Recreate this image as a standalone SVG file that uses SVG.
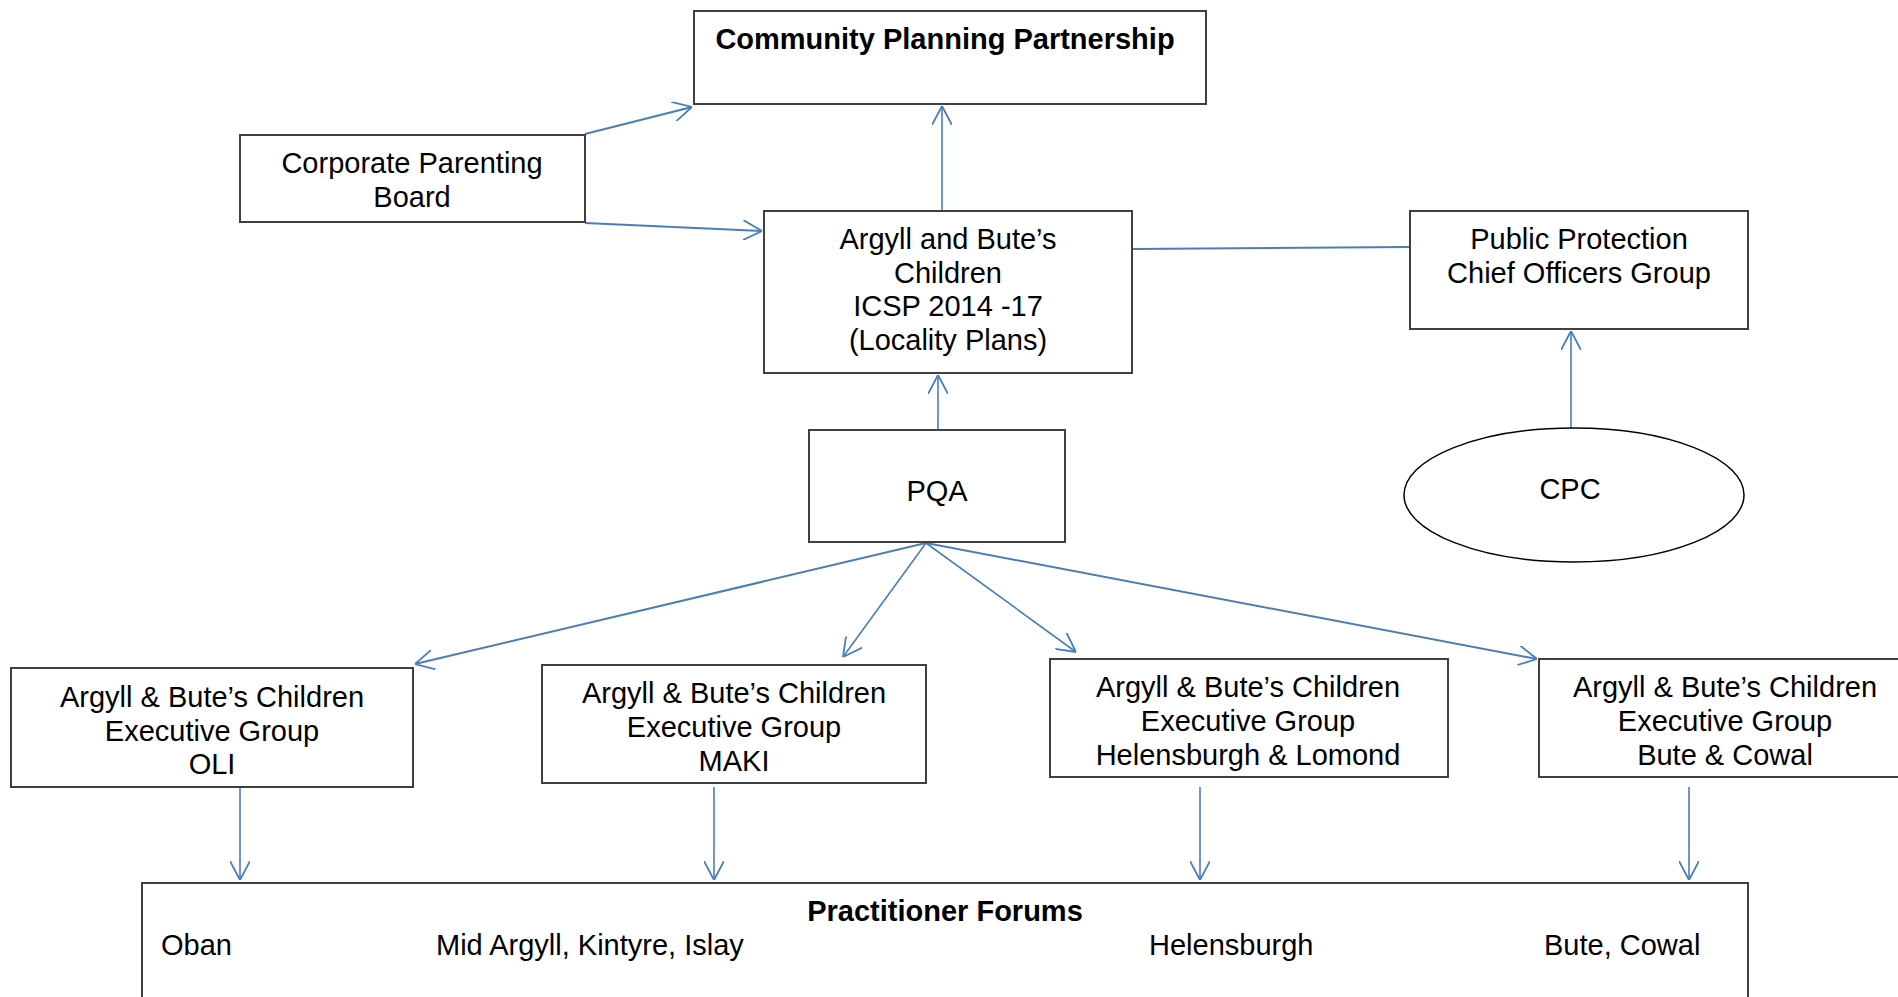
<svg xmlns="http://www.w3.org/2000/svg" width="1898" height="997" viewBox="0 0 1898 997">
<style>
.box{fill:#fff;stroke:#404040;stroke-width:2}
.t{font-family:"Liberation Sans",Arial,sans-serif;font-size:29px;fill:#000;text-anchor:middle}
.b{font-weight:bold}
.l{text-anchor:start}
.c{fill:none;stroke:#4a7ebb;stroke-width:2}
.v{stroke-width:1.6}
</style>
<defs>
<marker id="ah" viewBox="0 0 19 20" refX="19" refY="10" markerWidth="19" markerHeight="20" markerUnits="userSpaceOnUse" orient="auto">
<path d="M0,0 L19,10 L0,20" fill="none" stroke="#4a7ebb" stroke-width="1.8"/>
</marker>
</defs>
<rect width="1898" height="997" fill="#fff"/>
<g id="connectors">
<line class="c" x1="585" y1="134" x2="692" y2="107" marker-end="url(#ah)"/>
<line class="c" x1="585" y1="223" x2="762" y2="231" marker-end="url(#ah)"/>
<line class="c v" x1="942" y1="211" x2="942" y2="106" marker-end="url(#ah)"/>
<line class="c" x1="1132" y1="249" x2="1410" y2="247"/>
<line class="c v" x1="938" y1="430" x2="938" y2="375" marker-end="url(#ah)"/>
<line class="c v" x1="1571" y1="428" x2="1571" y2="331" marker-end="url(#ah)"/>
<line class="c" x1="926" y1="543" x2="415" y2="664" marker-end="url(#ah)"/>
<line class="c v" x1="926" y1="543" x2="843" y2="657" marker-end="url(#ah)"/>
<line class="c v" x1="926" y1="543" x2="1076" y2="652" marker-end="url(#ah)"/>
<line class="c" x1="926" y1="543" x2="1537" y2="659" marker-end="url(#ah)"/>
<line class="c v" x1="240" y1="787" x2="240" y2="880" marker-end="url(#ah)"/>
<line class="c v" x1="714" y1="787" x2="714" y2="880" marker-end="url(#ah)"/>
<line class="c v" x1="1200" y1="787" x2="1200" y2="880" marker-end="url(#ah)"/>
<line class="c v" x1="1689" y1="787" x2="1689" y2="880" marker-end="url(#ah)"/>
</g>
<g id="cpp">
<rect class="box" x="694" y="11" width="512" height="93"/>
<text class="t b" x="945" y="49">Community Planning Partnership</text>
</g>
<g id="cpb">
<rect class="box" x="240" y="135" width="345" height="87"/>
<text class="t" x="412" y="173">Corporate Parenting</text>
<text class="t" x="412" y="207">Board</text>
</g>
<g id="abc">
<rect class="box" x="764" y="211" width="368" height="162"/>
<text class="t" x="948" y="249">Argyll and Bute’s</text>
<text class="t" x="948" y="283">Children</text>
<text class="t" x="948" y="316">ICSP 2014 -17</text>
<text class="t" x="948" y="350">(Locality Plans)</text>
</g>
<g id="ppcog">
<rect class="box" x="1410" y="211" width="338" height="118"/>
<text class="t" x="1579" y="249">Public Protection</text>
<text class="t" x="1579" y="283">Chief Officers Group</text>
</g>
<g id="pqa">
<rect class="box" x="809" y="430" width="256" height="112"/>
<text class="t" x="937" y="501">PQA</text>
</g>
<g id="cpc">
<ellipse cx="1574" cy="495" rx="170" ry="67" fill="#fff" stroke="#000" stroke-width="1.5"/>
<text class="t" x="1570" y="499">CPC</text>
</g>
<g id="oli">
<rect class="box" x="11" y="668" width="402" height="119"/>
<text class="t" x="212" y="707">Argyll &amp; Bute’s Children</text>
<text class="t" x="212" y="741">Executive Group</text>
<text class="t" x="212" y="774">OLI</text>
</g>
<g id="maki">
<rect class="box" x="542" y="665" width="384" height="118"/>
<text class="t" x="734" y="703">Argyll &amp; Bute’s Children</text>
<text class="t" x="734" y="737">Executive Group</text>
<text class="t" x="734" y="771">MAKI</text>
</g>
<g id="hl">
<rect class="box" x="1050" y="659" width="398" height="118"/>
<text class="t" x="1248" y="697">Argyll &amp; Bute’s Children</text>
<text class="t" x="1248" y="731">Executive Group</text>
<text class="t" x="1248" y="765">Helensburgh &amp; Lomond</text>
</g>
<g id="bc">
<rect class="box" x="1539" y="659" width="370" height="118"/>
<text class="t" x="1725" y="697">Argyll &amp; Bute’s Children</text>
<text class="t" x="1725" y="731">Executive Group</text>
<text class="t" x="1725" y="765">Bute &amp; Cowal</text>
</g>
<g id="pf">
<rect class="box" x="142" y="883" width="1606" height="130"/>
<text class="t b" x="945" y="921">Practitioner Forums</text>
<text class="t l" x="161" y="955">Oban</text>
<text class="t l" x="436" y="955">Mid Argyll, Kintyre, Islay</text>
<text class="t l" x="1149" y="955">Helensburgh</text>
<text class="t l" x="1544" y="955">Bute, Cowal</text>
</g>
</svg>
